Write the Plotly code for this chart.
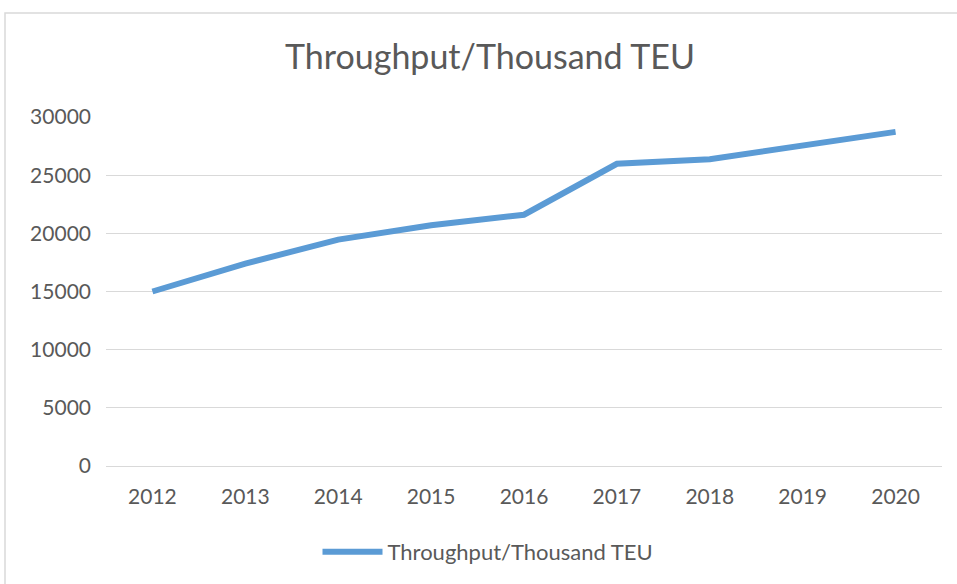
import plotly.graph_objects as go

years = ["2012", "2013", "2014", "2015", "2016", "2017", "2018", "2019", "2020"]
throughput = [15000, 17400, 19460, 20690, 21600, 25980, 26370, 27560, 28720]
series_name = "Throughput/Thousand TEU"
title_text = "Throughput/Thousand TEU"
y_ticks = [0, 5000, 10000, 15000, 20000, 25000, 30000]

W, H = 957, 584
L, R, T, B = 106, 15, 117, 118
pw = W - L - R
ph = H - T - B

FONT = "Lato"
GREY = "#595959"

fig = go.Figure()
fig.add_trace(go.Scatter(
    x=years, y=throughput, mode="lines", name=series_name,
    line=dict(color="#5B9BD5", width=6),
))

def px2paper_x(px):
    return (px - L) / pw

def px2paper_y(py):
    return (H - B - py) / ph

fig.update_layout(
    width=W, height=H,
    margin=dict(l=L, r=R, t=T, b=B, autoexpand=False),
    paper_bgcolor="white", plot_bgcolor="white",
    font=dict(family=FONT, color=GREY, size=22),
    title=dict(text=title_text, x=490 / W, xanchor="center",
               y=1 - 57 / H, yanchor="middle",
               font=dict(family=FONT, size=34, color=GREY)),
    showlegend=True,
    legend=dict(orientation="h", x=px2paper_x(488), xanchor="center",
                y=px2paper_y(552), yanchor="middle",
                font=dict(family=FONT, size=22, color=GREY),
                itemwidth=60, bgcolor="rgba(0,0,0,0)"),
    xaxis=dict(type="category", range=[-0.5, len(years) - 0.5],
               showgrid=False, showline=False, zeroline=False,
               ticks="", tickfont=dict(family=FONT, size=21, color=GREY),
               ticklabelstandoff=16),
    yaxis=dict(range=[0, 30000], tickvals=y_ticks, showgrid=True,
               gridcolor="#D9D9D9", gridwidth=1.3, zeroline=True,
               zerolinecolor="#D9D9D9", zerolinewidth=1.3, showline=False,
               ticks="", tickfont=dict(family=FONT, size=21, color=GREY),
               ticklabelstandoff=14, tickformat="d"),
    shapes=[dict(type="rect", xref="paper", yref="paper",
                 x0=px2paper_x(5), x1=px2paper_x(1000),
                 y0=px2paper_y(13), y1=px2paper_y(640),
                 line=dict(color="#D9D9D9", width=1.5), layer="below")],
)

fig.write_html("out.html", config={"displayModeBar": False},
               post_script="document.body.style.margin='0';document.body.style.overflow='hidden';")
